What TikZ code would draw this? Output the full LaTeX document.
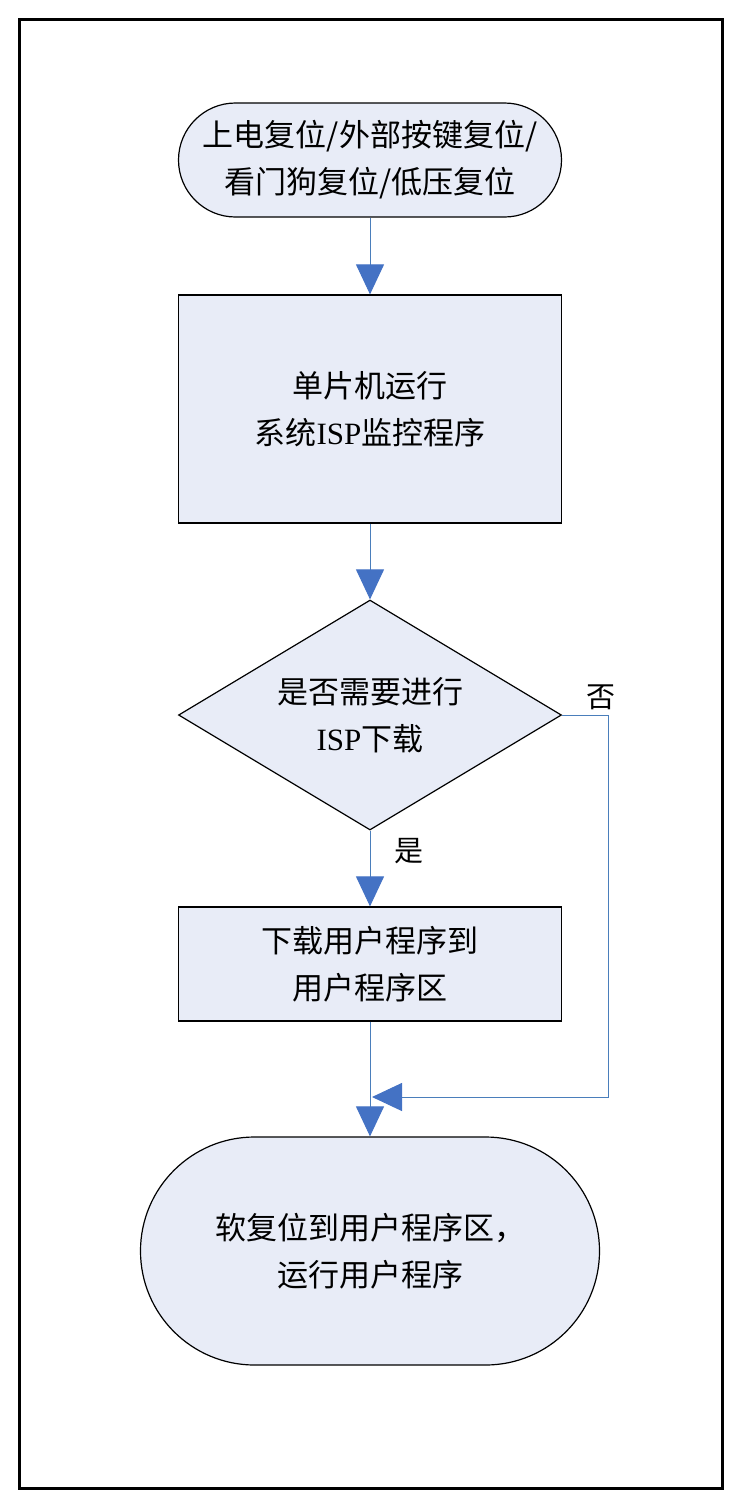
\documentclass[tikz,border=0pt]{standalone}
\usepackage{fontspec}
\setmainfont{Liberation Serif}
\newfontfamily\cjk{Noto Sans CJK SC}
\usetikzlibrary{shapes.geometric,shapes.misc,arrows.meta}
\definecolor{fillc}{HTML}{E8ECF7}
\definecolor{linec}{HTML}{4A7EBB}
\definecolor{headc}{HTML}{4472C4}
\begin{document}
\begin{tikzpicture}[x=1pt,y=-1pt,
  box/.style={draw=black, line width=1.2pt, fill=fillc, inner sep=0pt, align=center,
    font=\fontsize{31}{47}\selectfont\cjk},
  term/.style={box, rounded rectangle},
  conn/.style={draw=linec, line width=1pt, -{Triangle[width=28pt,length=30pt,fill=headc,color=headc]}},
  lbl/.style={font=\fontsize{29}{30}\selectfont\cjk, inner sep=0pt}
  ]
\useasboundingbox (0,0) rectangle (740,1507);
\draw[line width=3pt] (19,19) rectangle (722,1488);

\node[term, minimum width=383pt, minimum height=114pt] (start) at (370,160)
  {上电复位/外部按键复位/\\看门狗复位/低压复位};
\node[box, minimum width=383pt, minimum height=228pt] (run) at (370,409)
  {单片机运行\\系统{\rmfamily ISP}监控程序};
\node[box, diamond, aspect=1.665, minimum width=383pt, minimum height=230pt] (dec) at (370,715)
  {是否需要进行\\{\rmfamily ISP}下载};
\node[box, minimum width=383pt, minimum height=114pt] (dl) at (370,964)
  {下载用户程序到\\用户程序区};
\node[term, minimum width=459pt, minimum height=228pt] (end) at (370,1251)
  {软复位到用户程序区，\\运行用户程序};

\coordinate (merge) at (372,1097);
\draw[conn] (start.south) -- (run.north);
\draw[conn] (run.south) -- (dec.north);
\draw[conn] (dec.south) -- (dl.north);
\draw[conn] (dl.south) -- (end.north);
\draw[conn] (dec.east) -- ++(46,0) |- (merge);

\node[lbl] (no) at (601,697) {否};
\node[lbl] (yes) at (409,851) {是};
\end{tikzpicture}
\end{document}
